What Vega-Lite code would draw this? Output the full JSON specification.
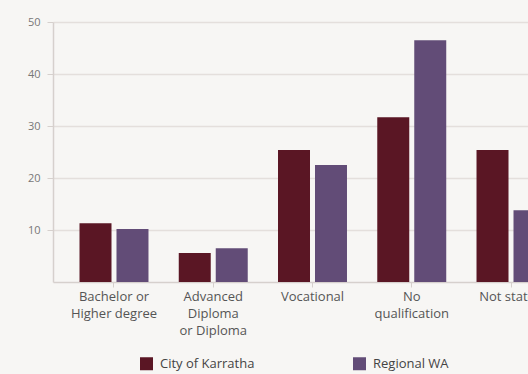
{
  "$schema": "https://vega.github.io/schema/vega-lite/v6.json",
  "width": 519,
  "height": 260,
  "autosize": "none",
  "padding": {"left": 53, "top": 22, "right": 0, "bottom": 92},
  "background": "#f7f6f4",
  "config": {
    "view": {"stroke": null},
    "font": "Open Sans"
  },
  "data": {
    "values": [
      {"category": "Bachelor or Higher degree", "area": "City of Karratha", "value": 11.3},
      {"category": "Bachelor or Higher degree", "area": "Regional WA", "value": 10.2},
      {"category": "Advanced Diploma or Diploma", "area": "City of Karratha", "value": 5.6},
      {"category": "Advanced Diploma or Diploma", "area": "Regional WA", "value": 6.5},
      {"category": "Vocational", "area": "City of Karratha", "value": 25.4},
      {"category": "Vocational", "area": "Regional WA", "value": 22.5},
      {"category": "No qualification", "area": "City of Karratha", "value": 31.7},
      {"category": "No qualification", "area": "Regional WA", "value": 46.5},
      {"category": "Not stated", "area": "City of Karratha", "value": 25.4},
      {"category": "Not stated", "area": "Regional WA", "value": 13.8}
    ]
  },
  "mark": {"type": "bar"},
  "encoding": {
    "x": {
      "field": "category",
      "type": "nominal",
      "sort": null,
      "title": null,
      "scale": {"paddingInner": 0.305, "paddingOuter": 0.267},
      "axis": {
        "labelAngle": 0,
        "labelColor": "#555555",
        "labelFontSize": 13,
        "labelLineHeight": 17,
        "labelPadding": 3,
        "labelBaseline": "top",
        "tickColor": "#d6d0cd",
        "tickSize": 5,
        "domainColor": "#d6d0cd",
        "domainWidth": 1.5,
        "labelExpr": "datum.value == 'Bachelor or Higher degree' ? ['Bachelor or', 'Higher degree'] : datum.value == 'Advanced Diploma or Diploma' ? ['Advanced', 'Diploma', 'or Diploma'] : datum.value == 'No qualification' ? ['No', 'qualification'] : datum.value"
      }
    },
    "xOffset": {
      "field": "area",
      "type": "nominal",
      "scale": {"paddingInner": 0.135, "paddingOuter": 0}
    },
    "y": {
      "field": "value",
      "type": "quantitative",
      "title": null,
      "scale": {"domain": [0, 50], "nice": false},
      "axis": {
        "values": [10, 20, 30, 40, 50],
        "labelColor": "#777777",
        "labelFontSize": 11,
        "labelPadding": 7,
        "tickSize": 6,
        "tickColor": "#d6d0cd",
        "domainColor": "#d6d0cd",
        "domainWidth": 1.5,
        "gridColor": "#e4dfdc",
        "gridWidth": 1.5
      }
    },
    "color": {
      "field": "area",
      "type": "nominal",
      "scale": {"domain": ["City of Karratha", "Regional WA"], "range": ["#5a1624", "#624c77"]},
      "legend": {
        "title": null,
        "orient": "none",
        "legendX": 87,
        "legendY": 335,
        "direction": "horizontal",
        "columns": 2,
        "columnPadding": 98,
        "symbolType": "square",
        "symbolSize": 169,
        "symbolStrokeWidth": 0,
        "symbolOpacity": 1,
        "labelFontSize": 13,
        "labelColor": "#444444",
        "labelOffset": 7
      }
    }
  }
}
